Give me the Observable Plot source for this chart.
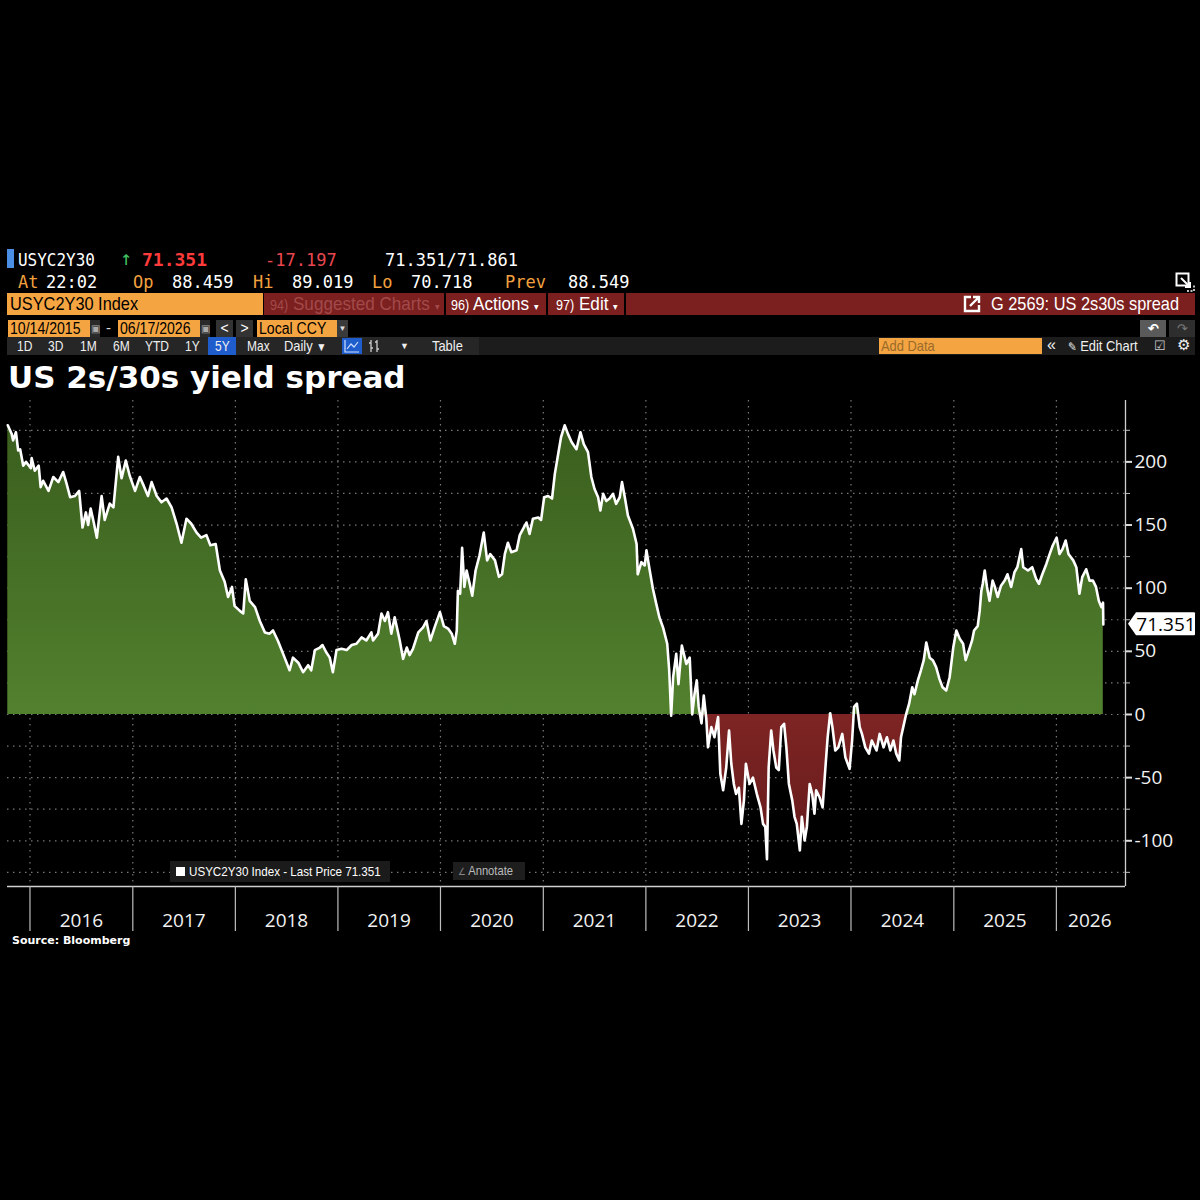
<!DOCTYPE html>
<html>
<head>
<meta charset="utf-8">
<script src="https://cdn.jsdelivr.net/npm/d3@7"></script>
<script src="https://cdn.jsdelivr.net/npm/@observablehq/plot@0.6"></script>
<style>
  html, body { margin: 0; padding: 0; background: #000; }
  body { width: 1200px; height: 1200px; position: relative; overflow: hidden; color: #fff;
         font-family: "Liberation Sans", sans-serif; }
  .abs { position: absolute; white-space: nowrap; }
  .mono { font-family: "DejaVu Sans Mono", monospace; font-size: 17px; line-height: 20px; }
  .or { color: #f3a13f; }
  .box { position: absolute; box-sizing: border-box; white-space: nowrap; }
  .obox { background: #f4a542; color: #000; }
  .btn { position: absolute; font-size: 15px; line-height: 18px; color: #f0f0f0; white-space: nowrap; }
  /* condensed look for the terminal menu texts */
  .sq { display: inline-block; transform-origin: 0 50%; }
  .s80 { transform: scaleX(0.80); }
  .s86 { transform: scaleX(0.86); }
  .s88 { transform: scaleX(0.88); }
  .s90 { transform: scaleX(0.90); }
  #chart { position: absolute; left: 0; top: 392px; }
  #chart svg { overflow: visible; }
</style>
</head>
<body>

<!-- quote line -->
<div class="box" style="left:7px;top:249px;width:7px;height:19px;background:#4b8ee6"></div>
<div class="abs mono" style="left:18px;top:250px"><span class="sq" style="transform:scaleX(0.94)">USYC2Y30</span></div>
<div class="abs mono" style="left:120px;top:248px;color:#3fbf5f;font-size:20px">↑</div>
<div class="abs mono" id="lastTop" style="left:142px;top:250px;color:#ff3b3b;font-weight:bold;font-size:18px"></div>
<div class="abs mono" style="left:265px;top:250px;color:#e8474f">-17.197</div>
<div class="abs mono" style="left:385px;top:250px">71.351/71.861</div>

<div class="abs mono or" style="left:18px;top:272px">At</div>
<div class="abs mono" style="left:46px;top:272px">22:02</div>
<div class="abs mono or" style="left:133px;top:272px">Op</div>
<div class="abs mono" style="left:172px;top:272px">88.459</div>
<div class="abs mono or" style="left:253px;top:272px">Hi</div>
<div class="abs mono" style="left:292px;top:272px">89.019</div>
<div class="abs mono or" style="left:372px;top:272px">Lo</div>
<div class="abs mono" style="left:411px;top:272px">70.718</div>
<div class="abs mono or" style="left:505px;top:272px">Prev</div>
<div class="abs mono" style="left:568px;top:272px">88.549</div>
<svg class="abs" style="left:1175px;top:272px" width="20" height="20" viewBox="0 0 20 20">
  <rect x="1.5" y="1.5" width="12" height="12" fill="none" stroke="#fff" stroke-width="2"/>
  <path d="M6 6 L15 15 M15 10 L15 15 L10 15" stroke="#fff" stroke-width="2" fill="none"/>
  <path d="M12 19 H19 V12" stroke="#fff" stroke-width="1.5" stroke-dasharray="2,1.5" fill="none"/>
</svg>

<!-- security / menu bar -->
<div class="box obox" style="left:7px;top:293px;width:256px;height:22px;font-size:19px;line-height:22px;padding-left:3px"><span class="sq s86">USYC2Y30 Index</span></div>
<div class="box" style="left:264px;top:293px;width:931px;height:22px;background:#7c1f1f"></div>
<div class="box" style="left:444px;top:293px;width:2px;height:22px;background:#000"></div>
<div class="box" style="left:546px;top:293px;width:2px;height:22px;background:#000"></div>
<div class="box" style="left:624px;top:293px;width:2px;height:22px;background:#000"></div>
<div class="abs" style="left:270px;top:293px;font-size:19px;line-height:22px;color:#a24a4a"><span class="sq s90"><span style="font-size:14px">94)</span> Suggested Charts <span style="font-size:10px">▾</span></span></div>
<div class="abs" style="left:451px;top:293px;font-size:19px;line-height:22px;color:#fff"><span class="sq s90"><span style="font-size:14px">96)</span> Actions <span style="font-size:10px">▾</span></span></div>
<div class="abs" style="left:556px;top:293px;font-size:19px;line-height:22px;color:#fff"><span class="sq s90"><span style="font-size:14px">97)</span> Edit <span style="font-size:10px">▾</span></span></div>
<svg class="abs" style="left:963px;top:295px" width="18" height="18" viewBox="0 0 18 18">
  <path d="M8 2 H2 V16 H16 V10" stroke="#fff" stroke-width="2.4" fill="none"/>
  <path d="M7 11 L15 3 M10 2 H16 V8" stroke="#fff" stroke-width="2.4" fill="none"/>
</svg>
<div class="abs" style="left:991px;top:293px;font-size:19px;line-height:22px;color:#fff"><span class="sq s86">G 2569: US 2s30s spread</span></div>

<!-- date range row -->
<div class="box obox" style="left:8px;top:320px;width:82px;height:17px;font-size:16px;line-height:17px;padding-left:2px"><span class="sq s88">10/14/2015</span></div>
<div class="box" style="left:90px;top:320px;width:10px;height:17px;background:#2a2a2a;color:#aaa;font-size:10px;line-height:17px;text-align:center">▣</div>
<div class="abs" style="left:106px;top:319px;font-size:15px;color:#ddd">-</div>
<div class="box obox" style="left:118px;top:320px;width:82px;height:17px;font-size:16px;line-height:17px;padding-left:2px"><span class="sq s88">06/17/2026</span></div>
<div class="box" style="left:200px;top:320px;width:10px;height:17px;background:#2a2a2a;color:#aaa;font-size:10px;line-height:17px;text-align:center">▣</div>
<div class="box" style="left:216px;top:320px;width:17px;height:17px;background:#333;color:#fff;font-size:14px;line-height:17px;text-align:center">&lt;</div>
<div class="box" style="left:236px;top:320px;width:17px;height:17px;background:#333;color:#fff;font-size:14px;line-height:17px;text-align:center">&gt;</div>
<div class="box obox" style="left:257px;top:320px;width:80px;height:17px;font-size:16px;line-height:17px;padding-left:2px"><span class="sq s88">Local CCY</span></div>
<div class="box" style="left:337px;top:320px;width:11px;height:17px;background:#3a3a3a;color:#ddd;font-size:8px;line-height:17px;text-align:center">▼</div>
<div class="box" style="left:1140px;top:320px;width:26px;height:17px;background:#5a5a5a;color:#fff;font-size:13px;line-height:17px;text-align:center;font-weight:bold">↶</div>
<div class="box" style="left:1169px;top:320px;width:26px;height:17px;background:#2e2e2e;color:#777;font-size:13px;line-height:17px;text-align:center">↷</div>

<!-- toolbar row -->
<div class="box" style="left:7px;top:337px;width:1188px;height:18px;background:#1c1c1c"></div>
<div class="box" style="left:7px;top:337px;width:472px;height:18px;background:#262626"></div>
<div class="btn" style="left:17px;top:337px"><span class="sq s80">1D</span></div>
<div class="btn" style="left:48px;top:337px"><span class="sq s80">3D</span></div>
<div class="btn" style="left:80px;top:337px"><span class="sq s80">1M</span></div>
<div class="btn" style="left:113px;top:337px"><span class="sq s80">6M</span></div>
<div class="btn" style="left:145px;top:337px"><span class="sq s80">YTD</span></div>
<div class="btn" style="left:185px;top:337px"><span class="sq s80">1Y</span></div>
<div class="box" style="left:208px;top:337px;width:28px;height:18px;background:#1f5ccc"></div>
<div class="btn" style="left:215px;top:337px"><span class="sq s80">5Y</span></div>
<div class="btn" style="left:247px;top:337px"><span class="sq s80">Max</span></div>
<div class="btn" style="left:284px;top:337px"><span class="sq s86">Daily <span style="font-size:12px">▼</span></span></div>
<div class="box" style="left:342px;top:338px;width:20px;height:16px;background:#1f5ccc"></div>
<svg class="abs" style="left:344px;top:339px" width="16" height="14" viewBox="0 0 16 14">
  <path d="M1 1 V13 H15" stroke="#cfe0ff" stroke-width="1.2" fill="none"/>
  <path d="M3 10 L7 5 L10 8 L14 3" stroke="#cfe0ff" stroke-width="1.2" fill="none"/>
</svg>
<svg class="abs" style="left:368px;top:339px" width="13" height="14" viewBox="0 0 13 14">
  <path d="M3 1 V13 M1 4 H3 M3 9 H5 M9 1 V13 M7 3 H9 M9 10 H11" stroke="#ccc" stroke-width="1.3" fill="none"/>
</svg>
<div class="btn" style="left:400px;top:337px;font-size:9px">▼</div>
<div class="btn" style="left:432px;top:337px"><span class="sq s86">Table</span></div>
<div class="box obox" style="left:879px;top:338px;width:163px;height:16px;font-size:15px;line-height:16px;padding-left:2px;color:#9a6a2a"><span class="sq s86">Add Data</span></div>
<div class="btn" style="left:1047px;top:336px;font-size:16px">«</div>
<div class="btn" style="left:1068px;top:337px"><span class="sq s86"><span style="font-size:12px">✎</span> Edit Chart</span></div>
<div class="btn" style="left:1154px;top:337px;font-size:13px;color:#ccc">☑</div>
<div class="btn" style="left:1177px;top:336px;font-size:15px">⚙</div>

<!-- title -->
<div class="abs" style="left:8px;top:359px;font-family:'DejaVu Sans',sans-serif;font-weight:bold;font-size:31px;line-height:36px;color:#fff">US 2s/30s yield spread</div>

<div id="chart"></div>

<!-- in-chart legend and annotate button -->
<div class="box" style="left:170px;top:861px;width:220px;height:21px;background:#1b1b1b;font-size:13.5px;line-height:21px;color:#fff;z-index:2">
  <span style="position:absolute;left:6px;top:6px;width:9px;height:9px;background:#fff"></span>
  <span class="sq s86" style="position:absolute;left:19px;top:0">USYC2Y30 Index - Last Price <span id="legendLast"></span></span>
</div>
<div class="box" style="left:453px;top:862px;width:72px;height:18px;background:#1e1e1e;font-size:13px;line-height:18px;color:#bbb;z-index:2">
  <span class="sq s86" style="margin-left:5px"><span style="color:#888;font-size:10px">∠</span> Annotate</span>
</div>

<div class="abs" style="left:12px;top:934px;font-family:'DejaVu Sans',sans-serif;font-weight:bold;font-size:11px;color:#fff">Source: Bloomberg</div>

<script>
// US 2s/30s Treasury yield spread, basis points (sampled closes)
const dates = [
  "2015-10-14","2015-10-28","2015-11-02","2015-11-12","2015-11-20","2015-11-27","2015-12-08","2015-12-18",
  "2016-01-04","2016-01-07","2016-01-18","2016-02-01","2016-02-08","2016-02-17","2016-03-07","2016-03-24",
  "2016-04-11","2016-04-28","2016-05-10","2016-05-23","2016-06-09","2016-06-24","2016-07-06","2016-07-18",
  "2016-07-26","2016-08-04","2016-08-15","2016-08-26","2016-09-12","2016-09-23","2016-10-11","2016-10-24",
  "2016-11-10","2016-11-22","2016-12-07","2016-12-21",
  "2017-01-09","2017-01-26","2017-02-09","2017-02-24","2017-03-09","2017-03-27","2017-04-13","2017-05-01",
  "2017-05-19","2017-06-06","2017-06-23","2017-07-11","2017-07-28","2017-08-16","2017-09-01","2017-09-20",
  "2017-10-04","2017-10-23","2017-11-07","2017-11-24","2017-12-06","2017-12-20","2017-12-29",
  "2018-01-17","2018-01-29","2018-02-07","2018-02-21","2018-03-12","2018-03-29","2018-04-16","2018-05-03",
  "2018-05-15","2018-06-01","2018-06-20","2018-07-13","2018-07-25","2018-08-13","2018-08-30","2018-09-17",
  "2018-09-28","2018-10-11","2018-10-29","2018-11-07","2018-11-21","2018-12-03","2018-12-14","2018-12-27",
  "2019-01-14","2019-02-01","2019-02-19","2019-03-08","2019-03-26","2019-04-12","2019-04-30","2019-05-06",
  "2019-05-24","2019-06-05","2019-06-17","2019-06-28","2019-07-10","2019-07-22","2019-08-09","2019-08-21",
  "2019-09-03","2019-09-13","2019-09-25","2019-10-14","2019-10-31","2019-11-12","2019-11-26","2019-12-11",
  "2019-12-30",
  "2020-01-13","2020-01-28","2020-02-10","2020-02-21","2020-02-28","2020-03-03","2020-03-11","2020-03-18",
  "2020-03-26","2020-04-03","2020-04-14","2020-04-23","2020-05-05","2020-05-19","2020-06-03","2020-06-15",
  "2020-06-26","2020-07-13","2020-07-27","2020-08-07","2020-08-17","2020-08-28","2020-09-09","2020-09-28",
  "2020-10-09","2020-10-21","2020-11-02","2020-11-13","2020-11-25","2020-12-14","2020-12-24",
  "2021-01-04","2021-01-18","2021-02-01","2021-02-11","2021-02-22","2021-03-05","2021-03-18","2021-03-30",
  "2021-04-12","2021-04-29","2021-05-13","2021-05-25","2021-06-09","2021-06-21","2021-07-02","2021-07-15",
  "2021-07-23","2021-08-02","2021-08-13","2021-08-25","2021-09-06","2021-09-17","2021-09-30","2021-10-08",
  "2021-10-18","2021-10-29","2021-11-16","2021-11-29","2021-12-03","2021-12-16","2021-12-28",
  "2022-01-03","2022-01-14","2022-01-26","2022-02-07","2022-02-18","2022-03-03","2022-03-18","2022-03-25",
  "2022-04-01","2022-04-08","2022-04-19","2022-04-27","2022-05-09","2022-05-25","2022-06-06","2022-06-15",
  "2022-06-23","2022-07-01","2022-07-08","2022-07-18","2022-07-26","2022-08-04","2022-08-10","2022-08-22",
  "2022-09-02","2022-09-15","2022-09-23","2022-10-03","2022-10-14","2022-10-24","2022-11-01","2022-11-10",
  "2022-11-18","2022-11-28","2022-12-07","2022-12-16","2022-12-23",
  "2023-01-05","2023-01-17","2023-01-31","2023-02-13","2023-02-22","2023-03-02","2023-03-08","2023-03-14",
  "2023-03-23","2023-03-31","2023-04-10","2023-04-19","2023-04-28","2023-05-08","2023-05-16","2023-05-25",
  "2023-06-06","2023-06-14","2023-06-22","2023-07-03","2023-07-10","2023-07-20","2023-07-28","2023-08-07",
  "2023-08-16","2023-08-24","2023-08-30","2023-09-11","2023-09-22","2023-10-02","2023-10-10","2023-10-19",
  "2023-10-27","2023-11-06","2023-11-17","2023-12-01","2023-12-12","2023-12-27",
  "2024-01-05","2024-01-12","2024-01-22","2024-02-01","2024-02-09","2024-02-21","2024-03-05","2024-03-15",
  "2024-04-01","2024-04-12","2024-04-26","2024-05-08","2024-05-20","2024-05-31","2024-06-10","2024-06-21",
  "2024-06-27","2024-07-05","2024-07-15","2024-07-26","2024-08-06","2024-08-14","2024-08-26","2024-09-06",
  "2024-09-16","2024-09-25","2024-10-07","2024-10-18","2024-10-30","2024-11-11","2024-11-22","2024-12-05",
  "2024-12-17","2024-12-30",
  "2025-01-10","2025-01-22","2025-02-03","2025-02-12","2025-02-24","2025-03-07","2025-03-14","2025-03-27",
  "2025-04-03","2025-04-09","2025-04-14","2025-04-21","2025-04-29","2025-05-08","2025-05-19","2025-05-27",
  "2025-06-06","2025-06-18","2025-07-01","2025-07-11","2025-07-24","2025-08-05","2025-08-15","2025-08-29",
  "2025-09-05","2025-09-22","2025-10-07","2025-10-21","2025-10-31","2025-11-12","2025-11-26","2025-12-08",
  "2025-12-19",
  "2026-01-02","2026-01-12","2026-01-23","2026-02-03","2026-02-13","2026-03-02","2026-03-13","2026-03-24",
  "2026-04-03","2026-04-17","2026-04-29","2026-05-11","2026-05-22","2026-06-01","2026-06-10","2026-06-16",
  "2026-06-17"
];

const spread = [
  229, 222, 217, 223.5, 209, 210, 197, 200,
  195, 203, 193, 197, 180, 185, 177, 188,
  184, 192, 183, 172, 173, 177, 148, 160,
  150, 163, 152, 140, 173, 154, 167, 164,
  204, 187, 201, 189,
  177, 188, 181, 173, 184, 173, 168, 171,
  164, 151, 136, 155, 151, 144, 140, 142,
  134, 135, 114, 105, 93, 101, 86,
  82, 80, 107, 90, 85, 74, 65, 64,
  66.5, 58.6, 48, 35, 45, 41, 33.5, 39,
  35, 51, 53, 55, 49, 45, 33.5, 51,
  52, 51, 55, 56, 61, 58.6, 65, 58.6,
  64, 80, 74, 81, 64, 77, 58.6, 44,
  53, 47, 52, 65, 69, 74, 58.6, 69,
  81,
  70, 68, 64, 56, 66.5, 98, 95.6, 132,
  101, 114, 103.5, 94, 114, 126, 144, 122,
  127, 122, 109, 111, 127, 136, 128.5, 130,
  142, 147, 152, 143, 155, 156, 154,
  172, 173, 171, 190.5, 205, 219.5, 229, 222,
  215.6, 210, 223.5, 214, 207.7, 188, 178.7, 172,
  161.5, 174.7, 169, 171, 174.7, 166.8, 172, 184,
  172, 157.6, 147, 135, 111, 120.6, 118,
  130, 115, 99.5, 87.6, 77, 69, 56, 35,
  -1, 29.5, 48, 24, 54.6, 40, 45, 0,
  16, 27, 6, -7, 15, -3, -26, -10,
  -18, -2, -47, -60, -42, -12.7, -39, -55,
  -63, -58, -86.6, -68, -39,
  -55, -50, -63, -73.5, -86.6, -89, -114.6, -42,
  -12.7, -28.5, -42, -44, -10, -7.4, -26, -55,
  -68, -81, -86.6, -107.7, -81, -99.8, -89, -55,
  -63, -78.6, -60, -65.5, -73.5, -42, -18, 1,
  -10, -28.5, -26, -15.4, -34, -43,
  -20.6, 6, 8.6, -10, -15.4, -26, -31, -20.6,
  -28.5, -15.4, -26, -18, -28.5, -20.6, -31, -36.4,
  -18, -10, 0, 8.6, 21.6, 16, 27, 35,
  43, 57, 45, 43, 37.5, 28, 21.6, 19,
  29.5, 53,
  66.5, 60, 56, 43, 51, 58.6, 66.5, 70,
  82, 98, 103.5, 114, 101, 90, 106, 101,
  93, 102, 106, 111, 101, 112.7, 116.6, 131,
  116.6, 114, 116.6, 107.4, 103.5, 111, 119, 127,
  133.8,
  140, 127, 131, 137.7, 127, 122, 116.6, 95.6,
  108.7, 115, 106, 106, 101, 90, 85, 88.549,
  71.351
];

// Axis ticks and labels
const yearStarts = ["2016-01-01","2017-01-01","2018-01-01","2019-01-01","2020-01-01","2021-01-01",
                    "2022-01-01","2023-01-01","2024-01-01","2025-01-01","2026-01-01"];
const yearLabelDates = ["2016-07-02","2017-07-02","2018-07-02","2019-07-02","2020-07-02","2021-07-02",
                        "2022-07-02","2023-07-02","2024-07-02","2025-07-02","2026-04-30"];
const yMajorTicks = [-100, -50, 0, 50, 100, 150, 200];
const yMinorTicks = [-125, -75, -25, 25, 75, 125, 175, 225];
const gridLevels = [-125, -100, -75, -50, -25, 0, 25, 50, 75, 100, 125, 150, 175, 200, 225];

const parse = s => new Date(s + "T00:00:00Z");
const data = dates.map((d, i) => ({date: parse(d), value: spread[i]}));
const last = data[data.length - 1].value;
const fmtLast = d3.format(".3f");

document.getElementById("lastTop").textContent = fmtLast(last);
document.getElementById("legendLast").textContent = fmtLast(last);

const axisFont = "'Open Sans', 'Noto Sans', sans-serif";

// gradient fills for the positive / negative areas
function gradients() {
  const g = d3.create("svg:g");
  const defs = g.append("defs");
  const gg = defs.append("linearGradient").attr("id", "spreadGreen").attr("x1", 0).attr("y1", 0).attr("x2", 0).attr("y2", 1);
  gg.append("stop").attr("offset", "0%").attr("stop-color", "#3a5e1e");
  gg.append("stop").attr("offset", "100%").attr("stop-color", "#52812e");
  const gr = defs.append("linearGradient").attr("id", "spreadRed").attr("x1", 0).attr("y1", 0).attr("x2", 0).attr("y2", 1);
  gr.append("stop").attr("offset", "0%").attr("stop-color", "#7e2424");
  gr.append("stop").attr("offset", "100%").attr("stop-color", "#651b1b");
  return g.node();
}

// bottom and right axis lines
function axisLines(index, scales, values, dims) {
  const g = d3.create("svg:g").attr("stroke", "#cfcfcf").attr("stroke-width", 1.3);
  const left = dims.marginLeft, right = dims.width - dims.marginRight;
  const top = dims.marginTop, bottom = dims.height - dims.marginBottom;
  g.append("line").attr("x1", left).attr("x2", right).attr("y1", bottom + 0.5).attr("y2", bottom + 0.5);
  g.append("line").attr("x1", right + 0.5).attr("x2", right + 0.5).attr("y1", top).attr("y2", bottom);
  return g.node();
}

// last-price tag on the right axis
function priceTag(index, scales, values, dims) {
  const x0 = dims.width - dims.marginRight + 3;
  const y0 = scales.y(last);
  const g = d3.create("svg:g").attr("transform", `translate(${x0},${y0})`);
  g.append("path")
    .attr("d", "M0,0 L8,-11.5 L66,-11.5 Q67,-11.5 67,-10.5 L67,10.5 Q67,11.5 66,11.5 L8,11.5 Z")
    .attr("fill", "#fff");
  g.append("text")
    .attr("x", 38).attr("y", 0).attr("dy", "0.35em")
    .attr("text-anchor", "middle")
    .attr("font-family", axisFont).attr("font-size", 19).attr("fill", "#000")
    .text(fmtLast(last));
  return g.node();
}

const chart = Plot.plot({
  width: 1200,
  height: 544,
  marginTop: 8,
  marginBottom: 50,
  marginLeft: 7,
  marginRight: 75,
  style: {background: "transparent", color: "#f0f0f0", fontFamily: axisFont, overflow: "visible"},
  x: {type: "utc", domain: [parse("2015-10-13"), parse("2026-09-04")], axis: null},
  y: {domain: [-136.2, 248.6], axis: null},
  marks: [
    gradients,
    Plot.gridY({ticks: gridLevels, stroke: "#a0a0a0", strokeOpacity: 0.75, strokeWidth: 1.2, strokeDasharray: "1.5,4.5"}),
    Plot.gridX({ticks: yearStarts.map(parse), stroke: "#a0a0a0", strokeOpacity: 0.75, strokeWidth: 1.2, strokeDasharray: "1.5,4.5"}),
    Plot.areaY(data, {x: "date", y1: 0, y2: d => Math.max(0, d.value), fill: "url(#spreadGreen)"}),
    Plot.areaY(data, {x: "date", y1: 0, y2: d => Math.min(0, d.value), fill: "url(#spreadRed)"}),
    Plot.lineY(data, {x: "date", y: "value", stroke: "#ffffff", strokeWidth: 2.6, strokeLinejoin: "round"}),
    axisLines,
    Plot.axisX({ticks: yearStarts.map(parse), tickSize: 45, tickFormat: () => "", label: null, stroke: "#bdbdbd", strokeWidth: 1.2}),
    Plot.axisX({ticks: yearLabelDates.map(parse), tickSize: 0, tickPadding: 27, fontSize: 19, label: null,
                tickFormat: d3.utcFormat("%Y"), fill: "#f2f2f2"}),
    Plot.axisY({ticks: yMinorTicks, anchor: "right", tickSize: 4, tickFormat: () => "", label: null, stroke: "#bdbdbd"}),
    Plot.axisY({ticks: yMajorTicks, anchor: "right", tickSize: 6, tickPadding: 3, fontSize: 19, label: null,
                tickFormat: d => String(d), stroke: "#dcdcdc", strokeWidth: 2, fill: "#f2f2f2"}),
    priceTag
  ]
});

document.getElementById("chart").appendChild(chart);
</script>
</body>
</html>
